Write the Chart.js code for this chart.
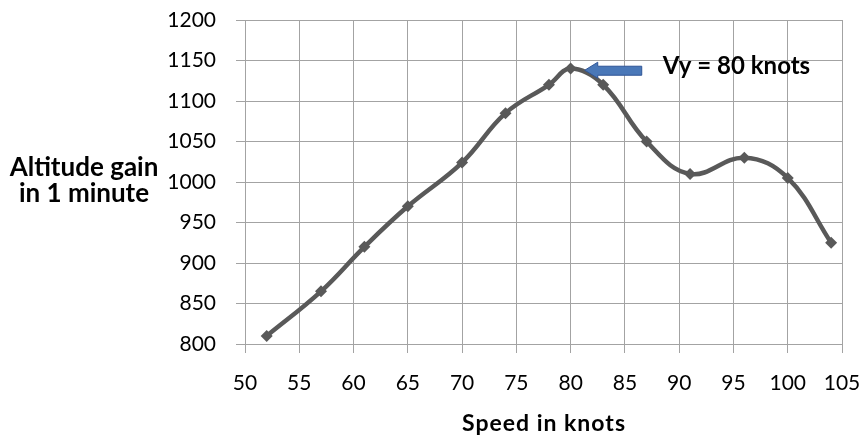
<!DOCTYPE html>
<html>
<head>
<meta charset="utf-8">
<script src="https://cdn.jsdelivr.net/npm/chart.js@4"></script>
<style>
  body { margin: 0; background: #fff; }
  #wrap { width: 862px; height: 439px; }
</style>
</head>
<body>
<div id="wrap"><canvas id="climb-chart"></canvas></div>
<script>
// speed (knots) vs altitude gained in one minute
const speeds = [52, 57, 61, 65, 70, 74, 78, 80, 83, 87, 91, 96, 100, 104];
const altitudeGain = [810, 865, 920, 970, 1024, 1085, 1120, 1140, 1120, 1050, 1010, 1030, 1005, 925];
const bestSpeed = 80;
const calloutText = 'Vy = 80 knots';
const yTitleLines = ['Altitude gain', 'in 1 minute'];
const xTitle = 'Speed in knots';

const gridColor = '#a3a3a3';
const lineColor = '#595959';

// draws the axis titles, the blue arrow and its label
const extras = {
    id: 'extras',
    afterDraw(chart) {
        const ctx = chart.ctx;
        const x = chart.scales.x, y = chart.scales.y;

        ctx.save();
        ctx.fillStyle = '#000';
        ctx.textAlign = 'center';
        ctx.textBaseline = 'alphabetic';

        // y axis title (horizontal, two lines)
        ctx.font = 'bold 26px Lato';
        ctx.fillText(yTitleLines[0], 84, 176);
        ctx.fillText(yTitleLines[1], 84, 202);

        // x axis title
        ctx.font = 'bold 23px Lato';
        ctx.letterSpacing = '1px';
        ctx.fillText(xTitle, 544, 431);
        ctx.restore();

        // arrow pointing at the peak
        const tipX = x.getPixelForValue(bestSpeed + 1.3);
        const tipY = y.getPixelForValue(1138);
        ctx.save();
        ctx.fillStyle = '#4a78b8';
        ctx.strokeStyle = '#2f5597';
        ctx.lineWidth = 1;
        ctx.beginPath();
        ctx.moveTo(tipX, tipY);
        ctx.lineTo(tipX + 13, tipY - 8);
        ctx.lineTo(tipX + 13, tipY - 4);
        ctx.lineTo(tipX + 57, tipY - 4);
        ctx.lineTo(tipX + 57, tipY + 5);
        ctx.lineTo(tipX + 13, tipY + 5);
        ctx.lineTo(tipX + 13, tipY + 8);
        ctx.closePath();
        ctx.fill();
        ctx.stroke();

        ctx.fillStyle = '#000';
        ctx.font = 'bold 24px Lato';
        ctx.textAlign = 'left';
        ctx.textBaseline = 'alphabetic';
        ctx.fillText(calloutText, tipX + 78, tipY + 4);
        ctx.restore();
    }
};

const ctx = document.getElementById('climb-chart').getContext('2d');

new Chart(ctx, {
    type: 'line',
    data: {
        datasets: [{
            label: 'Altitude gain',
            data: speeds.map((s, i) => ({ x: s, y: altitudeGain[i] })),
            borderColor: lineColor,
            backgroundColor: lineColor,
            borderWidth: 4.5,
            tension: 0.4,
            pointStyle: 'rectRot',
            pointRadius: 6,
            pointBorderWidth: 0,
            fill: false
        }]
    },
    options: {
        responsive: true,
        maintainAspectRatio: false,
        animation: false,
        layout: { padding: { top: 20, right: 20, left: 0, bottom: 0 } },
        plugins: {
            legend: { display: false },
            tooltip: { enabled: false }
        },
        scales: {
            x: {
                type: 'linear',
                min: 50,
                max: 105,
                ticks: {
                    stepSize: 5,
                    color: '#000',
                    font: { family: 'Lato', size: 21 },
                    padding: 18,
                    callback: v => String(v)
                },
                grid: { color: gridColor, tickLength: 9, lineWidth: 1 },
                border: { color: gridColor },
                afterFit(scale) {
                    scale.height = 95;
                    scale.paddingLeft = 0;
                    scale.paddingRight = 0;
                }
            },
            y: {
                min: 800,
                max: 1200,
                ticks: {
                    stepSize: 50,
                    color: '#000',
                    font: { family: 'Lato', size: 21 },
                    padding: 20,
                    callback: v => String(v)
                },
                grid: { color: gridColor, tickLength: 9, lineWidth: 1 },
                border: { color: gridColor },
                afterFit(scale) {
                    scale.width = 245;
                    scale.paddingTop = 0;
                    scale.paddingBottom = 0;
                }
            }
        }
    },
    plugins: [extras]
});
</script>
</body>
</html>
